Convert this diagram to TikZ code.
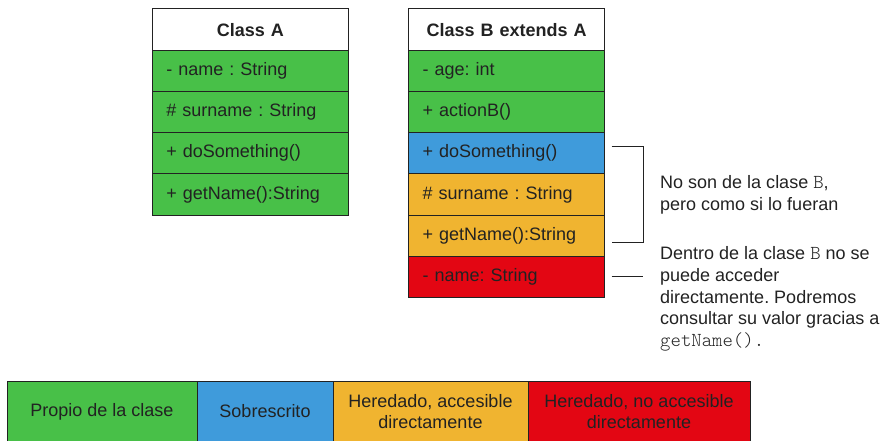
\documentclass[tikz,border=0pt]{standalone}
\usepackage{fontspec}
\setmainfont{Liberation Sans}
\setmonofont[Scale=1.1]{Latin Modern Mono Light}
\definecolor{own}{HTML}{48C048}
\definecolor{over}{HTML}{3F9BDB}
\definecolor{inh}{HTML}{F0B430}
\definecolor{hid}{HTML}{E30613}
\definecolor{ink}{HTML}{222222}
\begin{document}
\frenchspacing
\begin{tikzpicture}[x=1pt,y=-1pt,
  txt/.style={font=\fontsize{18}{21.7}\selectfont, text=ink},
  cell/.style={txt, draw=ink, line width=1pt, minimum height=41.2pt,
    text width=168pt, inner xsep=14pt, inner ysep=0pt, align=left,
    anchor=north west, outer sep=0pt},
  head/.style={cell, fill=white, align=center,
    font=\bfseries\fontsize{18}{21.7}\selectfont},
  own/.style={cell, fill=own},
  over/.style={cell, fill=over},
  inh/.style={cell, fill=inh},
  hid/.style={cell, fill=hid},
  key/.style={txt, draw=ink, line width=1pt, minimum height=61pt,
    inner sep=0pt, align=center, anchor=north west, outer sep=0pt},
  pointer/.style={draw=ink, line width=1pt},
  note/.style={txt, anchor=west, align=left, inner sep=0pt}]
\useasboundingbox (0,0) rectangle (885,441);

% Class A
\node[head] (ah) at (152.3,9)     {Class A};
\node[own]  (a1) at (152.3,50.2)  {- name : String};
\node[own]  (a2) at (152.3,91.4)  {\# surname : String};
\node[own]  (a3) at (152.3,132.6) {+ doSomething()};
\node[own]  (a4) at (152.3,173.8) {+ getName():String};

% Class B
\node[head] (bh)  at (408.7,9)     {Class B extends A};
\node[own]  (b1)  at (408.7,50.2)  {- age: int};
\node[own]  (b2)  at (408.7,91.4)  {+ actionB()};
\node[over] (bds) at (408.7,132.6) {+ doSomething()};
\node[inh]  (bsn) at (408.7,173.8) {\# surname : String};
\node[inh]  (bgn) at (408.7,215)   {+ getName():String};
\node[hid]  (bnm) at (408.7,256.2) {- name: String};

% Annotations
\draw[pointer] ([xshift=7pt,yshift=7pt]bds.east) -- ++(32,0)
  |- ([xshift=7pt,yshift=-7pt]bgn.east);
\draw[pointer] ([xshift=7pt]bnm.east) -- ++(31,0);
\node[note] (n1) at (660,195)
  {No son de la clase \texttt{B},\\pero como si lo fueran};
\node[note] (n2) at (660,299)
  {Dentro de la clase \texttt{B} no se\\puede acceder\\directamente. Podremos\\consultar su valor gracias a\\\texttt{getName().}};

% Legend
\node[key, fill=own,  minimum width=190pt] (k1) at (7,381)   {Propio de la clase};
\node[key, fill=over, minimum width=136pt] (k2) at (197,381) {Sobrescrito};
\node[key, fill=inh,  minimum width=195pt] (k3) at (333,381) {Heredado, accesible\\directamente};
\node[key, fill=hid,  minimum width=222pt] (k4) at (528,381) {Heredado, no accesible\\directamente};
\end{tikzpicture}
\end{document}
